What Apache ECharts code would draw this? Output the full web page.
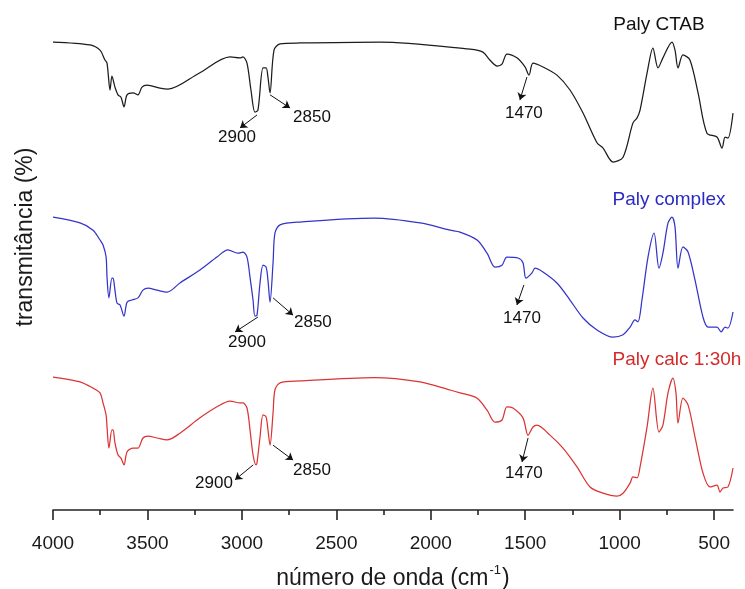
<!DOCTYPE html>
<html><head><meta charset="utf-8">
<script src="https://cdn.jsdelivr.net/npm/echarts@6/dist/echarts.min.js"></script>
<style>html,body{margin:0;padding:0;background:#fff}#c{width:745px;height:589px}</style>
</head><body><div id="c"></div>
<script>
const seriesNames = ['Paly CTAB', 'Paly complex', 'Paly calc 1:30h'];
const xTickLabels = [4000, 3500, 3000, 2500, 2000, 1500, 1000, 500];
const xMinorTicks = [3750, 3250, 2750, 2250, 1750, 1250, 750];
const peakLabels = ['2900', '2850', '1470'];

// [wavenumber (cm-1), transmittance (offset, %)]
const ctab = [[4000,97.5],[3804,96.9],[3751,95.8],[3725,93.75],[3714,93.1],[3698,87.5],[3688,90.4],[3672,88.1],[3656,86.5],[3640,86.0],[3624,84.0],[3608,86.5],[3576,86.9],[3550,86.5],[3529,88.1],[3502,88.5],[3434,87.9],[3391,87.7],[3227,91.0],[3063,94.4],[3010,94.2],[2994,94.4],[2973,93.1],[2952,87.5],[2931,82.9],[2915,83.3],[2888,92.1],[2872,92.1],[2862,90.2],[2851,86.9],[2830,95.8],[2798,97.1],[2692,97.3],[2269,97.5],[1792,96.0],[1724,95.4],[1687,93.75],[1649,92.5],[1623,92.9],[1597,95.0],[1544,94.2],[1501,92.3],[1480,90.6],[1459,93.1],[1406,92.3],[1332,90.6],[1263,87.5],[1194,82.7],[1120,76.5],[1088,75.4],[1035,72.5],[982,73.5],[930,80.6],[908,81.7],[892,83.3],[855,91.0],[824,96.25],[797,92.1],[771,94.2],[723,97.5],[707,95.8],[691,92.1],[665,94.8],[628,93.75],[585,86.9],[538,78.5],[485,77.7],[458,75.4],[442,77.7],[427,77.5],[400,82.7]];

const complex = [[4000,61.0],[3857,59.8],[3788,58.3],[3751,56.25],[3735,55.2],[3719,52.7],[3714,48.5],[3704,44.2],[3688,48.3],[3682,48.3],[3672,45.8],[3661,43.1],[3645,42.7],[3624,40.4],[3608,43.3],[3582,43.75],[3550,44.2],[3524,45.8],[3497,46.25],[3449,45.8],[3396,45.4],[3328,47.3],[3222,50.0],[3132,52.7],[3074,54.2],[3021,53.5],[2994,53.75],[2973,52.7],[2957,48.5],[2941,43.75],[2931,40.4],[2920,40.6],[2904,47.3],[2888,51.0],[2872,50.6],[2862,47.9],[2851,43.3],[2835,51.5],[2825,57.7],[2798,59.4],[2692,60.0],[2300,60.8],[2057,59.8],[1898,58.3],[1845,57.9],[1755,56.25],[1702,53.5],[1660,50.6],[1623,51.0],[1597,52.7],[1538,52.5],[1512,51.5],[1496,48.3],[1464,49.4],[1448,50.4],[1406,49.6],[1332,47.3],[1263,43.75],[1194,40.0],[1120,37.5],[1035,36.0],[982,36.5],[945,38.1],[919,39.6],[903,39.2],[882,43.75],[850,52.7],[818,57.7],[792,50.4],[771,53.5],[744,59.8],[723,61.0],[707,59.0],[691,50.4],[665,54.8],[638,53.75],[601,47.9],[559,40.2],[532,38.1],[485,38.1],[463,37.1],[442,38.1],[427,37.9],[400,41.25]];

const calc = [[4000,27.7],[3857,26.7],[3788,25.4],[3751,24.4],[3735,22.3],[3719,19.8],[3714,17.3],[3704,12.9],[3688,16.7],[3682,16.7],[3672,14.0],[3656,11.5],[3640,10.8],[3624,9.4],[3608,12.1],[3576,12.9],[3550,12.9],[3524,15.0],[3497,15.4],[3449,15.0],[3396,14.6],[3328,16.0],[3222,19.2],[3132,21.5],[3063,22.7],[3010,22.3],[2994,22.3],[2973,21.25],[2957,16.7],[2941,11.5],[2925,9.4],[2920,9.8],[2904,15.2],[2888,19.8],[2872,19.4],[2862,16.7],[2851,13.5],[2835,20.2],[2825,25.0],[2798,26.5],[2692,26.9],[2300,27.6],[2057,26.7],[1898,25.0],[1845,24.4],[1755,23.3],[1702,20.8],[1660,18.3],[1623,18.75],[1597,21.5],[1565,21.25],[1512,19.2],[1485,15.6],[1459,17.3],[1438,17.7],[1369,15.6],[1300,12.9],[1226,9.0],[1157,4.8],[1088,3.5],[1014,2.9],[982,3.5],[945,5.6],[930,6.9],[908,6.7],[892,9.0],[855,17.3],[824,25.4],[792,16.25],[771,17.7],[744,24.4],[718,27.5],[702,24.4],[691,18.1],[665,23.3],[638,21.9],[601,15.2],[559,7.7],[522,4.8],[485,5.2],[469,3.75],[453,4.6],[427,4.8],[400,8.75]];

// annotation layout (data coordinates)
const nameAt = [[792,101],[739,64.6],[697,31.25]];
const peakTextAt = [
  [[3026,77.7],[2629,81.9],[1507,82.7]],
  [[2973,35.0],[2624,39.2],[1517,40.0]],
  [[3148,5.6],[2629,8.3],[1507,7.7]]
];
const arrows = [
  [[[2920,82.3],[3010,79.6]],[[2851,86.5],[2745,83.75]],[[1491,90.2],[1528,85.4]]],
  [[[2915,40.2],[3036,37.1]],[[2835,44.2],[2729,40.6]],[[1507,46.9],[1544,42.7]]],
  [[[2940,9.4],[3036,6.3]],[[2835,13.5],[2729,10.4]],[[1485,15.0],[1517,10.0]]]
];
const lineColors = ['#1c1c1c', '#3434c8', '#dc3434'];
const textColors = ['#111111', '#2a2ac2', '#d42a2a'];
const FONT = '"Liberation Sans", Arial, sans-serif';

const datasets = [ctab, complex, calc];
const series = datasets.map((d, i) => ({
  type: 'line',
  name: seriesNames[i],
  data: d,
  showSymbol: false,
  symbol: 'none',
  smooth: 0.3,
  lineStyle: { color: lineColors[i], width: 1.25 },
  itemStyle: { color: lineColors[i] },
  animation: false,
  silent: true,
  markLine: {
    silent: true,
    animation: false,
    symbol: ['none', 'arrow'],
    symbolSize: 7,
    label: { show: false },
    lineStyle: { color: '#111', width: 1, type: 'solid' },
    data: arrows[i].map(a => [{ coord: a[0] }, { coord: a[1] }])
  },
  markPoint: {
    silent: true,
    animation: false,
    symbol: 'circle',
    symbolSize: 1,
    itemStyle: { color: 'rgba(0,0,0,0)' },
    label: { show: true, position: 'inside', fontFamily: FONT, formatter: p => p.name },
    data: [
      { name: seriesNames[i], coord: nameAt[i], label: { fontSize: 19, color: textColors[i] } }
    ].concat(peakLabels.map((t, k) => ({ name: t, coord: peakTextAt[i][k], label: { fontSize: 17, color: '#111' } })))
  }
}));

const chart = echarts.init(document.getElementById('c'), null, { renderer: 'canvas' });
chart.setOption({
  backgroundColor: '#fff',
  animation: false,
  grid: { left: 53, right: 12, top: 10, bottom: 79, containLabel: false, outerBoundsMode: 'none' },
  xAxis: [{
    type: 'value', min: 400, max: 4000, inverse: true, position: 'bottom',
    axisLine: { show: true, lineStyle: { color: '#222', width: 1.6 } },
    axisTick: { show: true, inside: false, length: 10, customValues: xTickLabels, lineStyle: { color: '#222', width: 1.6 } },
    axisLabel: { show: true, customValues: xTickLabels, fontSize: 19, color: '#1a1a1a', margin: 24, fontFamily: FONT,
      formatter: v => String(v) },
    splitLine: { show: false },
    name: 'número de onda (cm{sup|-1})',
    nameLocation: 'middle', nameGap: 54,
    nameTextStyle: { fontSize: 23, color: '#1a1a1a', fontFamily: FONT,
      rich: { sup: { fontSize: 13, fontFamily: FONT, color: '#1a1a1a', padding: [0, 1, 16, 1] } } }
  }, {
    type: 'value', min: 400, max: 4000, inverse: true, position: 'bottom',
    axisLine: { show: false },
    axisTick: { show: true, inside: false, length: 5, customValues: xMinorTicks, lineStyle: { color: '#222', width: 1.6 } },
    axisLabel: { show: false },
    splitLine: { show: false }
  }],
  yAxis: {
    type: 'value', min: 0, max: 104.17,
    axisLine: { show: false }, axisTick: { show: false }, axisLabel: { show: false }, splitLine: { show: false },
    name: 'transmitância (%)', nameLocation: 'middle', nameGap: 16,
    nameTextStyle: { fontSize: 23, color: '#1a1a1a', fontFamily: FONT, padding: [0, 0, 0, 46] }
  },
  series: series
});
</script>
</body></html>
